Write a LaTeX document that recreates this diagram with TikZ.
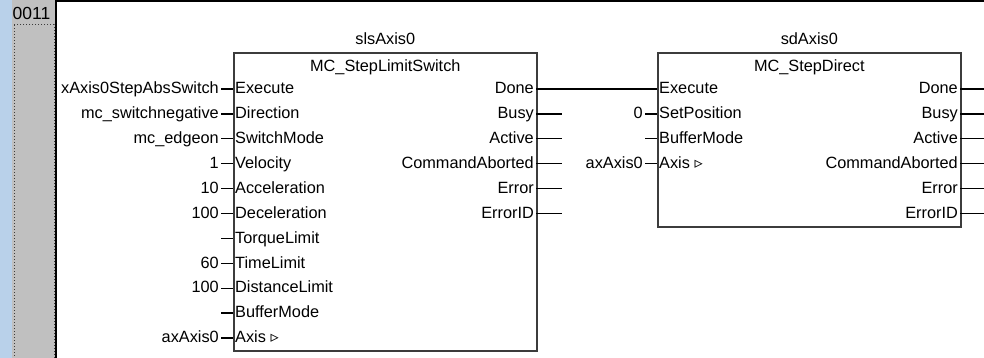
\documentclass[tikz,border=0pt]{standalone}
\usepackage{fontspec}
\setmainfont{Liberation Sans}
\newfontfamily\symfont{DejaVu Sans}
\usetikzlibrary{positioning}
\definecolor{railblue}{RGB}{185,209,234}
\definecolor{railgray}{RGB}{192,192,192}
\definecolor{boxline}{RGB}{60,60,60}

\begin{document}
\begin{tikzpicture}[x=1pt,y=-1pt,
    every node/.style={font=\fontsize{16.3}{18}\selectfont,inner sep=0pt},
    fb/.style={draw=boxline,line width=1.6pt,anchor=north west,inner sep=0pt},
    pinname/.style={anchor=west,inner sep=2pt,text height=11.5pt,text depth=2pt},
    pinout/.style={anchor=east,inner sep=2pt,text height=11.5pt,text depth=2pt},
    pinval/.style={anchor=east,inner sep=2pt,text height=11.5pt,text depth=2pt},
    stub/.style={line width=1.3pt}]
  \useasboundingbox (0,0) rectangle (984,358);

  % rung column
  \fill[railblue] (0,0) rectangle (12,358);
  \fill[railgray] (12,0) rectangle (56,358);
  \draw[boxline,dotted,line width=1pt] (14,25) rectangle (54,362);
  \draw[line width=2pt] (56,0) -- (56,358);
  \draw[line width=2pt] (56,1.5) -- (984,1.5);
  \node[font=\fontsize{17.5}{19}\selectfont] (rung) at (31.5,13) {0011};

  % MC_StepLimitSwitch
  \node[fb,minimum width=303pt,minimum height=298pt] (ls) at (233,52) {};
  \node[above=7pt of ls.north] (ls-inst) {slsAxis0};
  \node[below=7pt of ls.north] (ls-type) {MC\_StepLimitSwitch};
  \foreach \pin/\val [count=\i] in {Execute/xAxis0StepAbsSwitch,
      Direction/mc\_switchnegative, SwitchMode/mc\_edgeon, Velocity/1,
      Acceleration/10, Deceleration/100, TorqueLimit/{}, TimeLimit/60,
      DistanceLimit/100, BufferMode/{}, {Axis {\symfont ▹}}/axAxis0} {
    \coordinate (ls-i\i) at (233,64.1+24.9*\i);
    \coordinate (ls-e\i) at (221,64.1+24.9*\i);
    \node[pinname] (ls-p\i) at (ls-i\i) {\pin};
    \node[pinval] (ls-v\i) at (ls-e\i) {\val};
    \draw[stub] (ls-e\i) -- (ls-i\i);
  }
  \foreach \pin [count=\i] in {Done,Busy,Active,CommandAborted,Error,ErrorID} {
    \coordinate (ls-o\i) at (536,64.1+24.9*\i);
    \coordinate (ls-t\i) at (562,64.1+24.9*\i);
    \node[pinout] (ls-q\i) at (ls-o\i) {\pin};
  }
  \foreach \i in {2,...,6}
    \draw[stub] (ls-o\i) -- (ls-t\i);

  % MC_StepDirect
  \node[fb,minimum width=303pt,minimum height=174pt] (sd) at (657,52) {};
  \node[above=7pt of sd.north] (sd-inst) {sdAxis0};
  \node[below=7pt of sd.north] (sd-type) {MC\_StepDirect};
  \foreach \pin/\val [count=\i] in {Execute/{}, SetPosition/0,
      BufferMode/{}, {Axis {\symfont ▹}}/axAxis0} {
    \coordinate (sd-i\i) at (657,64.1+24.9*\i);
    \coordinate (sd-e\i) at (645,64.1+24.9*\i);
    \node[pinname] (sd-p\i) at (sd-i\i) {\pin};
    \node[pinval] (sd-v\i) at (sd-e\i) {\val};
  }
  \foreach \i in {2,3,4}
    \draw[stub] (sd-e\i) -- (sd-i\i);
  \foreach \pin [count=\i] in {Done,Busy,Active,CommandAborted,Error,ErrorID} {
    \coordinate (sd-o\i) at (960,64.1+24.9*\i);
    \coordinate (sd-t\i) at (984,64.1+24.9*\i);
    \node[pinout] (sd-q\i) at (sd-o\i) {\pin};
    \draw[stub] (sd-o\i) -- (sd-t\i);
  }

  % Done -> Execute
  \draw[stub] (ls-o1) -- (sd-i1);
\end{tikzpicture}
\end{document}
